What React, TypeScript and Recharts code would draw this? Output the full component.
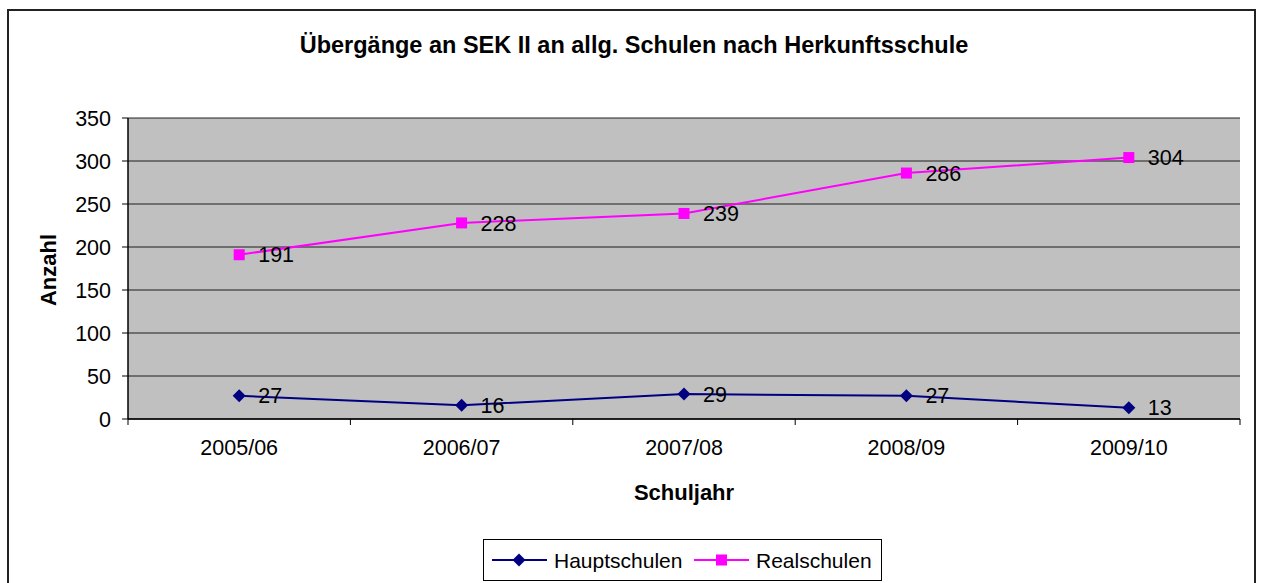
import React from "react";
import { LineChart, Line, XAxis, YAxis, CartesianGrid, LabelList, Legend } from "recharts";

const categories = ["2005/06", "2006/07", "2007/08", "2008/09", "2009/10"];
const hauptschulen = [27, 16, 29, 27, 13];
const realschulen = [191, 228, 239, 286, 304];
const yTicks = [0, 50, 100, 150, 200, 250, 300, 350];

const data = categories.map((c, i) => ({
  name: c,
  pos: i + 0.5,
  haupt: hauptschulen[i],
  real: realschulen[i],
}));

const xTickValues: number[] = [];
categories.forEach((_, i) => {
  xTickValues.push(i);
  xTickValues.push(i + 0.5);
});
xTickValues.push(categories.length);

const FONT = "'Liberation Sans', Arial, sans-serif";
const NAVY = "#000080";
const MAGENTA = "#FF00FF";

const Diamond = (props: any) => {
  const { cx, cy, fill } = props;
  if (cx == null || cy == null) return null;
  const r = 6.5;
  return <polygon points={`${cx},${cy - r} ${cx + r},${cy} ${cx},${cy + r} ${cx - r},${cy}`} fill={fill} />;
};

const Square = (props: any) => {
  const { cx, cy, fill } = props;
  if (cx == null || cy == null) return null;
  const s = 11;
  return <rect x={cx - s / 2} y={cy - s / 2} width={s} height={s} fill={fill} />;
};

const XTick = (props: any) => {
  const { x, y, payload } = props;
  const v = payload.value;
  if (Number.isInteger(v)) {
    return <line x1={x} x2={x} y1={y} y2={y + 6} stroke="#000" strokeWidth={1} />;
  }
  const idx = Math.floor(v);
  return (
    <text x={x} y={y + 36} textAnchor="middle" fontSize={21.5} fontFamily={FONT} fill="#000">
      {categories[idx]}
    </text>
  );
};

const LegendContent = () => (
  <div
    style={{
      border: "1px solid #000",
      width: 397,
      height: 40,
      boxSizing: "content-box",
      background: "#fff",
      position: "relative",
    }}
  >
    <svg width={397} height={40} style={{ display: "block" }}>
      <line x1={8} x2={63} y1={20} y2={20} stroke={NAVY} strokeWidth={2} />
      <polygon points="35,13.5 41.5,20 35,26.5 28.5,20" fill={NAVY} />
      <text x={70} y={27.5} fontSize={21} fontFamily={FONT} fill="#000">Hauptschulen</text>
      <line x1={210} x2={265} y1={20} y2={20} stroke={MAGENTA} strokeWidth={2} />
      <rect x={232} y={14.5} width={11} height={11} fill={MAGENTA} />
      <text x={272} y={27.5} fontSize={21} fontFamily={FONT} fill="#000">Realschulen</text>
    </svg>
  </div>
);

export default function App() {
  return (
    <div style={{ position: "relative", width: 1261, height: 583, background: "#fff" }}>
      <style>{`body{margin:0;}`}</style>
      <div
        style={{
          position: "absolute",
          left: 7,
          top: 9,
          width: 1249,
          height: 600,
          border: "2px solid #222",
          boxSizing: "border-box",
        }}
      />
      <div style={{ position: "absolute", left: 0, top: 0 }}>
        <LineChart
          width={1261}
          height={583}
          data={data}
          margin={{ top: 118, right: 21, bottom: 0, left: 0 }}
        >
          <CartesianGrid
            vertical={false}
            horizontal={true}
            stroke="#000"
            strokeOpacity={0.85}
            fill="#C0C0C0"
            fillOpacity={1}
          />
          <XAxis
            dataKey="pos"
            type="number"
            domain={[0, categories.length]}
            ticks={xTickValues}
            interval={0}
            tickLine={false}
            tickSize={0}
            tickMargin={0}
            axisLine={{ stroke: "#000", strokeWidth: 1.5 }}
            tick={<XTick />}
            height={122}
          />
          <XAxis
            xAxisId="top"
            orientation="top"
            type="number"
            domain={[0, 1]}
            tick={false}
            tickLine={false}
            axisLine={{ stroke: "#808080", strokeWidth: 1.5 }}
            height={0}
          />
          <YAxis
            domain={[0, 350]}
            ticks={yTicks}
            interval={0}
            width={128}
            tickSize={6}
            tickMargin={11}
            tickLine={{ stroke: "#000" }}
            axisLine={{ stroke: "#000", strokeWidth: 1.5 }}
            tick={{ fontSize: 21.5, fontFamily: FONT, fill: "#000" }}
          />
          <YAxis
            yAxisId="right"
            orientation="right"
            domain={[0, 1]}
            tick={false}
            tickLine={false}
            axisLine={{ stroke: "#808080", strokeWidth: 2 }}
            width={0}
          />
          <Line
            dataKey="haupt"
            name="Hauptschulen"
            stroke={NAVY}
            strokeWidth={2}
            dot={<Diamond fill={NAVY} />}
            activeDot={false}
            isAnimationActive={false}
          >
            <LabelList dataKey="haupt" position="right" offset={19} fontSize={21.5} fontFamily={FONT} fill="#000" />
          </Line>
          <Line
            dataKey="real"
            name="Realschulen"
            stroke={MAGENTA}
            strokeWidth={2}
            dot={<Square fill={MAGENTA} />}
            activeDot={false}
            isAnimationActive={false}
          >
            <LabelList dataKey="real" position="right" offset={19} fontSize={21.5} fontFamily={FONT} fill="#000" />
          </Line>
          <Legend
            content={<LegendContent />}
            wrapperStyle={{ position: "absolute", left: 483, top: 539, width: 399, height: 42, bottom: "auto" }}
          />
          <text x={634} y={53} textAnchor="middle" fontSize={23.5} fontWeight="bold" fontFamily={FONT} fill="#000">
            Übergänge an SEK II an allg. Schulen nach Herkunftsschule
          </text>
          <text x={684} y={500} textAnchor="middle" fontSize={22} fontWeight="bold" fontFamily={FONT} fill="#000">
            Schuljahr
          </text>
          <text
            x={56}
            y={270}
            textAnchor="middle"
            fontSize={22}
            fontWeight="bold"
            fontFamily={FONT}
            fill="#000"
            transform="rotate(-90 56 270)"
          >
            Anzahl
          </text>
        </LineChart>
      </div>
    </div>
  );
}
